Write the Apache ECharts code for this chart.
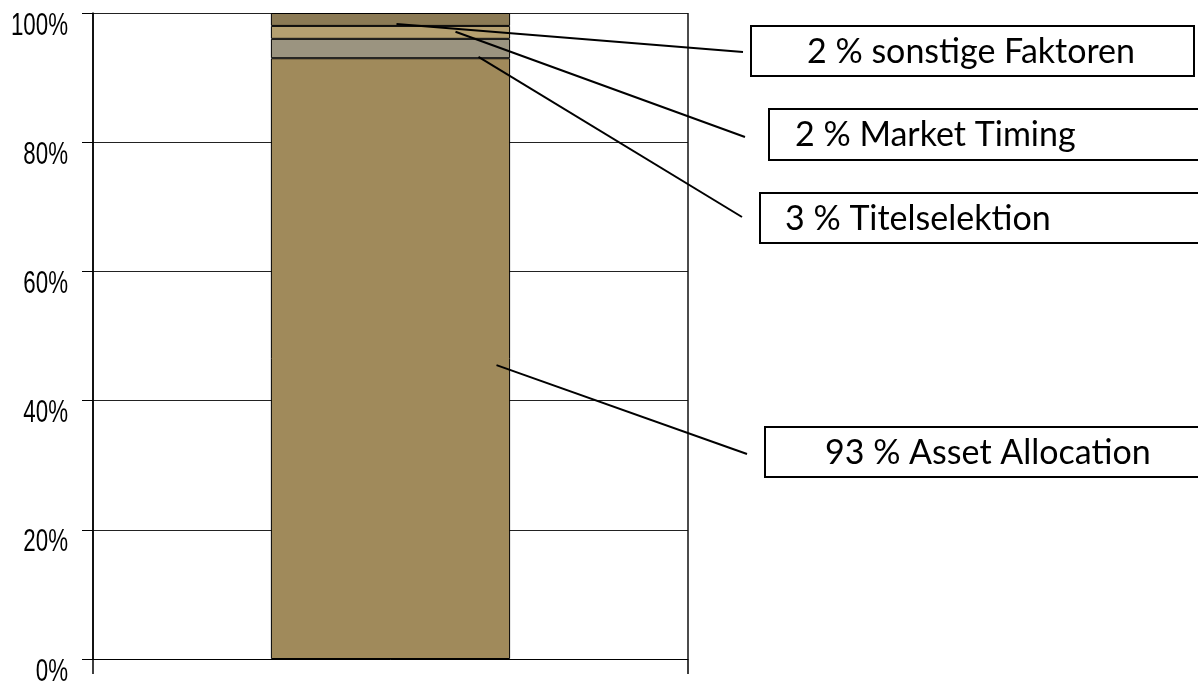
<!DOCTYPE html>
<html>
<head>
<meta charset="utf-8">
<script src="https://cdn.jsdelivr.net/npm/echarts@6/dist/echarts.min.js"></script>
<style>html,body{margin:0;padding:0;background:#fff}#c{width:1198px;height:685px}</style>
</head>
<body>
<div id="c"></div>
<script>
// ---- data ----
const categories = [''];
const seriesNames = ['Asset Allocation', 'Titelselektion', 'Market Timing', 'sonstige Faktoren'];
const seriesValues = [93, 3, 2, 2];
const seriesColors = ['#A08A5B', '#9B9480', '#B5A070', '#8B7A55'];
const calloutTexts = ['93 % Asset Allocation', '3 % Titelselektion', '2 % Market Timing', '2 % sonstige Faktoren'];
const yTicks = [0, 20, 40, 60, 80, 100];
const yTickLabels = ['0%', '20%', '40%', '60%', '80%', '100%'];

// ---- callout layout (annotation positions, not data) ----
const calloutAnchorValue = [45.5, 93.2, 97.1, 98.3];
const calloutLayout = [
  { dx: 106, box: [765, 427, 460, 50], tx: 825, lx: 747, ly: 454 },
  { dx: 88,  box: [760, 193, 460, 50], tx: 785, lx: 742, ly: 217 },
  { dx: 65,  box: [769, 109, 460, 51], tx: 795, lx: 745, ly: 137 },
  { dx: 6,   box: [751, 26, 443, 50],  tx: 807, lx: 743, ly: 52 }
];

const chart = echarts.init(document.getElementById('c'), null, { renderer: 'canvas' });

const barSeries = seriesNames.map((name, i) => ({
  name: name,
  type: 'bar',
  stack: 'total',
  barWidth: '40.2%',
  data: [seriesValues[i]],
  itemStyle: { color: seriesColors[i], borderColor: '#000', borderWidth: 1 },
  silent: true,
  z: 2
}));

const calloutSeries = {
  type: 'custom',
  silent: true,
  z: 10,
  clip: false,
  data: calloutAnchorValue.map((v, i) => [0, v, i]),
  renderItem: function (params, api) {
    const idx = api.value(2);
    const L = calloutLayout[idx];
    const pt = api.coord([api.value(0), api.value(1)]);
    const ax = pt[0] + L.dx;
    const ay = pt[1];
    const b = L.box;
    return {
      type: 'group',
      children: [
        { type: 'line', shape: { x1: ax, y1: ay, x2: L.lx, y2: L.ly },
          style: { stroke: '#000', lineWidth: 2 } },
        { type: 'rect', shape: { x: b[0], y: b[1], width: b[2], height: b[3] },
          style: { fill: '#fff', stroke: '#000', lineWidth: 2 } },
        { type: 'text', x: L.tx, y: b[1] + b[3] / 2 + 1,
          style: { text: calloutTexts[idx], fill: '#000', font: '34px Lato, "Open Sans", sans-serif',
                   textAlign: 'left', textVerticalAlign: 'middle' } }
      ]
    };
  }
};

// condensed y-axis tick labels, positioned through the y scale
const yLabelSeries = {
  type: 'custom',
  silent: true,
  z: 10,
  clip: false,
  data: yTicks.map((v, i) => [0, v, i]),
  renderItem: function (params, api) {
    const pt = api.coord([api.value(0), api.value(1)]);
    const axisX = params.coordSys.x;
    return {
      type: 'text',
      x: axisX - 25,
      y: pt[1] + 13,
      scaleX: 0.72,
      style: { text: yTickLabels[api.value(2)], fill: '#000', font: '31px "Liberation Sans", Arial, sans-serif',
               textAlign: 'right', textVerticalAlign: 'middle' }
    };
  }
};

chart.setOption({
  animation: false,
  grid: { left: 93, right: 510, top: 13, bottom: 26, containLabel: false, outerBoundsMode: 'none' },
  xAxis: {
    type: 'category',
    data: categories,
    axisLine: { show: true, lineStyle: { color: '#000', width: 1 } },
    axisTick: { show: true, length: 15, lineStyle: { color: '#000', width: 1.5 } },
    axisLabel: { show: false },
    splitLine: { show: true, lineStyle: { color: '#111', width: 1.5 } }
  },
  yAxis: {
    type: 'value',
    min: yTicks[0],
    max: yTicks[yTicks.length - 1],
    interval: yTicks[1] - yTicks[0],
    axisLine: { show: true, lineStyle: { color: '#000', width: 1.5 } },
    axisTick: { show: true, length: 11, lineStyle: { color: '#000', width: 1 } },
    axisLabel: { show: false },
    splitLine: { show: true, lineStyle: { color: '#222', width: 1 } }
  },
  series: barSeries.concat([calloutSeries, yLabelSeries])
});
</script>
</body>
</html>
